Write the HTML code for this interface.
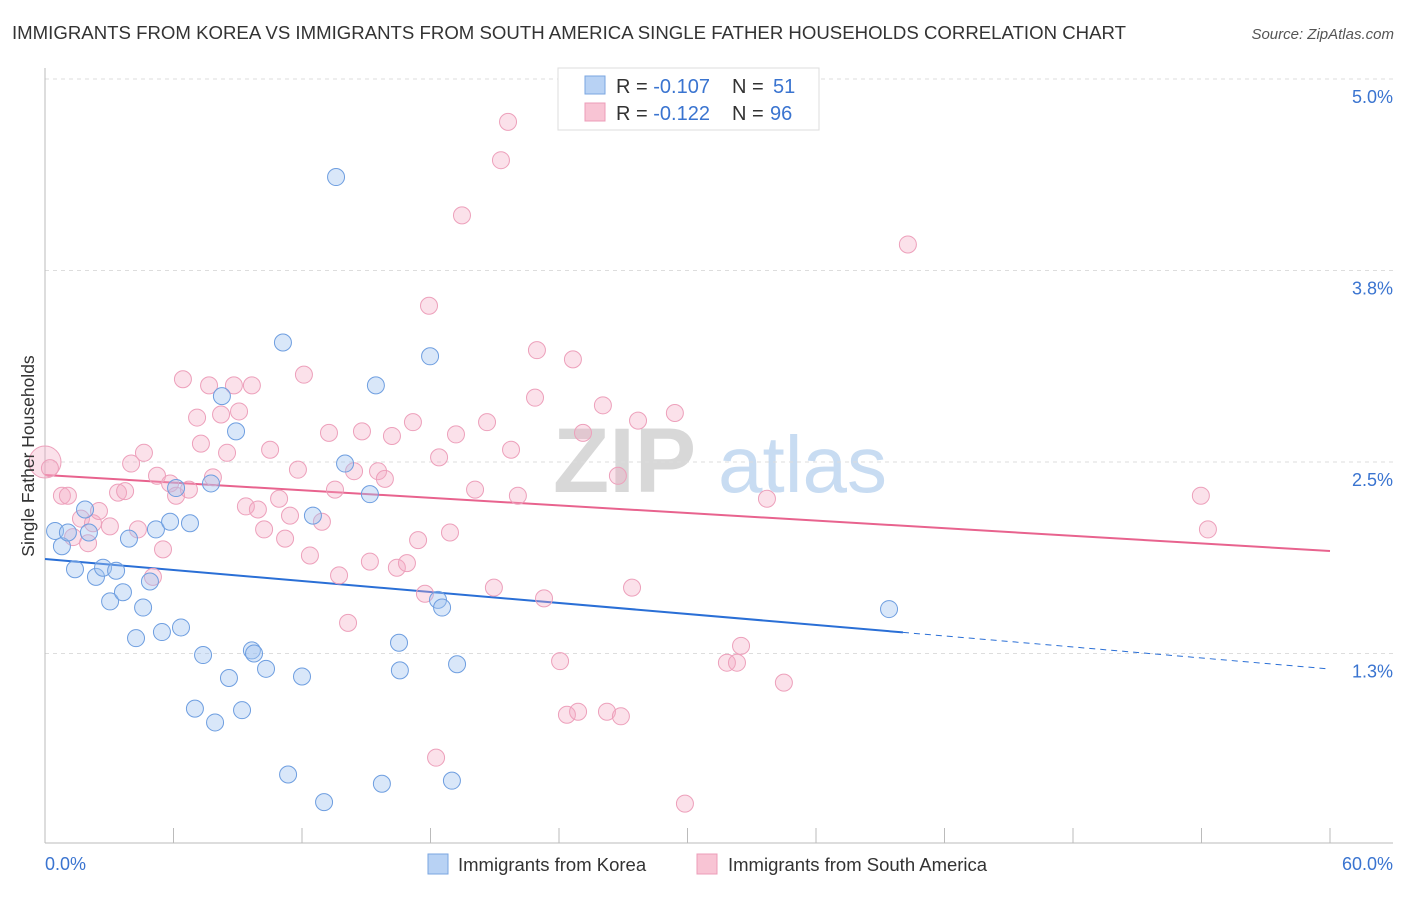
<!DOCTYPE html>
<html><head><meta charset="utf-8"><style>
body{margin:0;background:#fff;font-family:"Liberation Sans",sans-serif;}
svg text{font-family:"Liberation Sans",sans-serif;}
</style></head><body>
<svg id="chart" width="1406" height="892" xmlns="http://www.w3.org/2000/svg">
<text x="12" y="39" font-size="18.6" fill="#333" textLength="1114" lengthAdjust="spacingAndGlyphs">IMMIGRANTS FROM KOREA VS IMMIGRANTS FROM SOUTH AMERICA SINGLE FATHER HOUSEHOLDS CORRELATION CHART</text>
<text x="1394" y="39" font-size="15" fill="#555" text-anchor="end" font-style="italic">Source: ZipAtlas.com</text>
<g>
<text x="553" y="492" font-size="92" fill="#d8d8d8" font-family="Liberation Serif,serif" font-weight="bold">ZIP</text>
<text x="718" y="492" font-size="80" fill="#c8dcf2">atlas</text>
</g>
<g id="grid"></g>
<g id="axes"></g>
<g id="trend"></g>
<g id="pts"></g>
<text transform="translate(34,456) rotate(-90)" font-size="17.5" fill="#333" text-anchor="middle">Single Father Households</text>
<g>
<rect x="558" y="68" width="261" height="62" fill="#fff" stroke="#ddd"/>
<rect x="585" y="76" width="20" height="18" fill="#b8d2f4" stroke="#7aa6e0"/>
<rect x="585" y="103" width="20" height="18" fill="#f8c4d4" stroke="#ec9cb8"/>
<text x="616" y="93" font-size="20" fill="#333">R = <tspan fill="#3a74d0">-0.107</tspan><tspan x="732">N = </tspan><tspan fill="#3a74d0" x="773">51</tspan></text>
<text x="616" y="120" font-size="20" fill="#333">R = <tspan fill="#3a74d0">-0.122</tspan><tspan x="732">N = </tspan><tspan fill="#3a74d0" x="770">96</tspan></text>
</g>
<g>
<rect x="428" y="854" width="20" height="20" fill="#b8d2f4" stroke="#7aa6e0"/>
<text x="458" y="871" font-size="18.5" fill="#333">Immigrants from Korea</text>
<rect x="697" y="854" width="20" height="20" fill="#f8c4d4" stroke="#ec9cb8"/>
<text x="728" y="871" font-size="18.5" fill="#333">Immigrants from South America</text>
</g>
</svg>
<script>
const yTicks=[5.0,3.75,2.5,1.25];
const yTickLabels=["5.0%","3.8%","2.5%","1.3%"];
const xTickCount=10;
const xLabels=["0.0%","60.0%"];
const koreaX=[0.47,0.79,1.07,1.40,1.87,2.05,2.38,2.71,3.04,3.32,3.64,3.92,4.25,4.58,4.90,5.18,5.46,5.84,6.35,6.77,7.00,7.38,7.75,7.94,8.26,8.59,8.92,9.20,9.66,9.76,10.32,11.11,11.35,12.00,12.51,13.03,13.59,14.01,15.17,15.45,15.73,16.53,16.57,17.98,18.35,18.54,19.00,19.24,39.41,6.12];
const koreaY=[2.05,1.95,2.04,1.80,2.19,2.04,1.75,1.81,1.59,1.79,1.65,2.00,1.35,1.55,1.72,2.06,1.39,2.11,1.42,2.10,0.89,1.24,2.36,0.80,2.93,1.09,2.70,0.88,1.27,1.25,1.15,3.28,0.46,1.10,2.15,0.28,4.36,2.49,2.29,3.00,0.40,1.32,1.14,3.19,1.60,1.55,0.42,1.18,1.54,2.33];
const saX=[0,0.23,0.79,1.07,1.31,1.68,2.01,2.24,2.52,3.03,3.41,3.74,4.02,4.34,4.62,5.04,5.23,5.51,5.84,6.12,6.44,6.72,7.10,7.28,7.66,7.84,8.22,8.50,8.82,9.06,9.38,9.66,9.94,10.23,10.51,10.93,11.21,11.44,11.81,12.09,12.37,12.93,13.26,13.54,13.73,14.15,14.43,14.80,15.17,15.55,15.87,16.20,16.43,16.90,17.18,17.42,17.74,17.93,18.26,18.40,18.91,19.19,19.47,20.08,20.64,20.96,21.29,21.62,21.76,22.08,22.88,22.97,23.30,24.05,24.37,24.65,24.89,25.12,26.05,26.24,26.75,26.89,27.41,27.69,29.41,29.88,31.84,32.31,32.50,33.71,34.50,40.29,53.97,54.30];
const saY=[2.50,2.46,2.28,2.28,2.01,2.13,1.97,2.10,2.18,2.08,2.30,2.31,2.49,2.06,2.56,1.75,2.41,1.93,2.36,2.28,3.04,2.32,2.79,2.62,3.00,2.40,2.81,2.56,3.00,2.83,2.21,3.00,2.19,2.06,2.58,2.26,2.00,2.15,2.45,3.07,1.89,2.11,2.69,2.32,1.76,1.45,2.44,2.70,1.85,2.44,2.39,2.67,1.81,1.84,2.76,1.99,1.64,3.52,0.57,2.53,2.04,2.68,4.11,2.32,2.76,1.68,4.47,4.72,2.58,2.28,2.92,3.23,1.61,1.20,0.85,3.17,0.87,2.69,2.87,0.87,2.41,0.84,1.68,2.77,2.82,0.27,1.19,1.19,1.30,2.26,1.06,3.92,2.28,2.06];
const koreaTrend=[1.867,1.149];
const saTrend=[2.415,1.919];
const koreaSolidEnd=40.06;
const NS="http://www.w3.org/2000/svg";
const X=v=>45+v/60*1285;
const Y=v=>845-v*153.2;
function mk(tag,attrs,parent){const e=document.createElementNS(NS,tag);for(const k in attrs)e.setAttribute(k,attrs[k]);parent.appendChild(e);return e;}
const grid=document.getElementById('grid'),axes=document.getElementById('axes'),trend=document.getElementById('trend'),pts=document.getElementById('pts');
yTicks.forEach((t,i)=>{
 const l=mk('line',{x1:45,x2:1393,y1:Y(t),y2:Y(t),stroke:'#ddd','stroke-dasharray':'4,4'},grid);
 
 
 const tx=mk('text',{x:1393,y:Y(t)+24,'font-size':18,fill:'#3a74d0','text-anchor':'end'},axes);
 tx.textContent=yTickLabels[i];
 
 
});
mk('line',{x1:45,x2:45,y1:68,y2:843,stroke:'#bbb'},axes);
mk('line',{x1:45,x2:1393,y1:843,y2:843,stroke:'#bbb'},axes);
for(let i=0;i<=xTickCount;i++){const x=X(i*60/xTickCount);const t=mk('line',{x1:x,x2:x,y1:828,y2:843,stroke:'#bbb'},axes);
 
 }
const xl0=mk('text',{x:45,y:870,'font-size':18,fill:'#3a74d0'},axes);xl0.textContent=xLabels[0];


const xl1=mk('text',{x:1393,y:870,'font-size':18,fill:'#3a74d0','text-anchor':'end'},axes);xl1.textContent=xLabels[1];


const kv=x=>koreaTrend[0]+(koreaTrend[1]-koreaTrend[0])*x/60;
const sv=x=>saTrend[0]+(saTrend[1]-saTrend[0])*x/60;
saX.forEach((x,i)=>{const c=mk('circle',{cx:X(x),cy:Y(saY[i]),r:i===0?16:8.5,fill:'rgba(244,170,196,0.35)',stroke:'#eda0bb','stroke-width':1},pts);
 
 });
koreaX.forEach((x,i)=>{const c=mk('circle',{cx:X(x),cy:Y(koreaY[i]),r:8.5,fill:'rgba(160,196,240,0.4)',stroke:'#6e9ee0','stroke-width':1},pts);
 
 });
const l1=mk('line',{x1:X(0),y1:Y(kv(0)),x2:X(koreaSolidEnd),y2:Y(kv(koreaSolidEnd)),stroke:'#2a6fd6','stroke-width':2},trend);


const l2=mk('line',{x1:X(koreaSolidEnd),y1:Y(kv(koreaSolidEnd)),x2:X(60),y2:Y(kv(60)),stroke:'#2a6fd6','stroke-width':1,'stroke-dasharray':'6,5'},trend);


const l3=mk('line',{x1:X(0),y1:Y(sv(0)),x2:X(60),y2:Y(sv(60)),stroke:'#e8638e','stroke-width':2},trend);


</script>
</body></html>
